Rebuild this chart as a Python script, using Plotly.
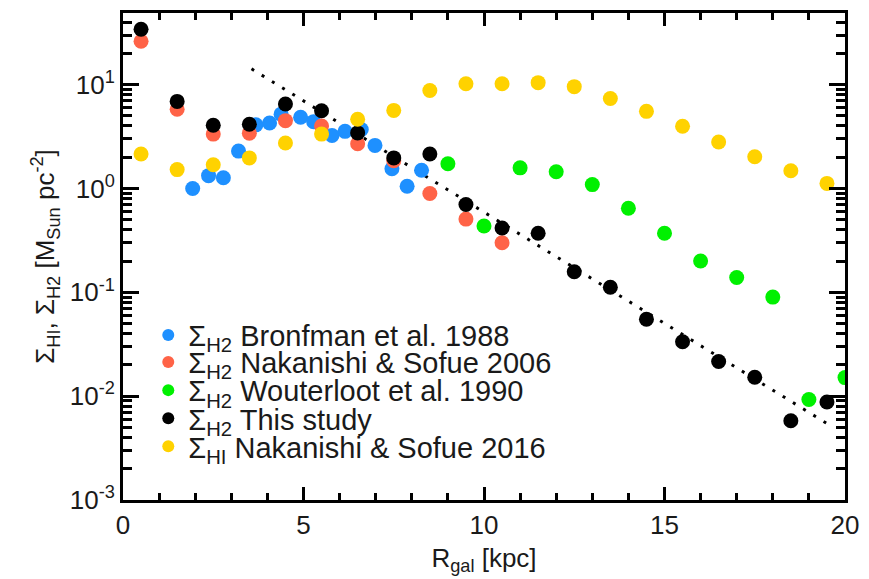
import plotly.graph_objects as go

# ---------------- data ----------------
bronfman_R = [1.93, 2.37, 2.78, 3.2, 3.68, 4.06, 4.38, 4.92, 5.28, 5.79, 6.15, 6.6, 6.98, 7.45, 7.87, 8.27]
bronfman_S = [1.0, 1.33, 1.27, 2.29, 4.1, 4.27, 5.2, 4.85, 4.4, 3.24, 3.55, 3.7, 2.6, 1.55, 1.05, 1.5]

ns06_R = [0.5, 1.5, 2.5, 3.5, 4.5, 5.5, 6.5, 7.5, 8.5, 9.5, 10.5]
ns06_S = [26.2, 5.8, 3.34, 3.41, 4.5, 4.0, 2.7, 1.85, 0.895, 0.507, 0.30]

wout_R = [9, 10, 11, 12, 13, 14, 15, 16, 17, 18, 19, 20]
wout_S = [1.73, 0.435, 1.58, 1.45, 1.09, 0.645, 0.37, 0.20, 0.139, 0.090, 0.0093, 0.0151]

this_R = [0.5, 1.5, 2.5, 3.5, 4.5, 5.5, 6.5, 7.5, 8.5, 9.5, 10.5, 11.5, 12.5, 13.5, 14.5, 15.5, 16.5, 17.5, 18.5, 19.5]
this_S = [34.2, 6.9, 4.07, 4.16, 6.5, 5.6, 3.43, 1.97, 2.15, 0.70, 0.416, 0.37, 0.158, 0.112, 0.055, 0.0334, 0.0216, 0.0152, 0.0058, 0.0088]

hi_R = [0.5, 1.5, 2.5, 3.5, 4.5, 5.5, 6.5, 7.5, 8.5, 9.5, 10.5, 11.5, 12.5, 13.5, 14.5, 15.5, 16.5, 17.5, 18.5, 19.5]
hi_S = [2.15, 1.52, 1.69, 1.97, 2.74, 3.34, 4.64, 5.65, 8.77, 10.2, 10.2, 10.45, 9.57, 7.36, 5.53, 3.98, 2.8, 2.02, 1.48, 1.12]

fit_R = [3.56, 19.52]
fit_S = [14.2, 0.0054]

x_ticks = [0, 5, 10, 15, 20]
y_ticks = [1e-3, 1e-2, 1e-1, 1e0, 1e1]
y_ticktext = ["10<sup>-3</sup>", "10<sup>-2</sup>", "10<sup>-1</sup>", "10<sup>0</sup>", "10<sup>1</sup>"]

series = [
    ("Σ<sub>H2</sub> Bronfman et al. 1988", bronfman_R, bronfman_S, "#1E90FF"),
    ("Σ<sub>H2</sub> Nakanishi & Sofue 2006", ns06_R, ns06_S, "#FF6347"),
    ("Σ<sub>H2</sub> Wouterloot et al. 1990", wout_R, wout_S, "#00F000"),
    ("Σ<sub>H2</sub> This study", this_R, this_S, "#000000"),
    ("Σ<sub>HI</sub> Nakanishi & Sofue 2016", hi_R, hi_S, "#FFD200"),
]

FONT = "Liberation Sans, Arial, Helvetica, sans-serif"
TXT = "#1a1a1a"

fig = go.Figure()
fig.add_trace(go.Scatter(x=fit_R, y=fit_S, mode="lines", showlegend=False,
                         line=dict(color="black", width=3, dash="3px,9px"), hoverinfo="skip"))
legend_ids = ["legend", "legend2", "legend3", "legend4", "legend5"]
for (name, xs, ys, col), lid in zip(series, legend_ids):
    fig.add_trace(go.Scatter(x=xs, y=ys, mode="markers", name=name, legend=lid,
                             marker=dict(color=col, size=15, line=dict(width=0))))

minor_y = [m * 10 ** e for e in range(-3, 2) for m in range(2, 10)]

axis_common = dict(showline=True, linewidth=3, linecolor="black", mirror="allticks",
                   ticks="inside", tickwidth=3, tickcolor="black",
                   showgrid=True, gridcolor="rgba(0,0,0,0)",
                   zerolinecolor="rgba(0,0,0,0)",
                   tickfont=dict(family=FONT, size=26, color=TXT))

fig.update_xaxes(range=[0, 20], tickmode="array", tickvals=x_ticks, ticklen=13,
                 minor=dict(dtick=1, ticks="inside", ticklen=7, tickwidth=3, tickcolor="black"),
                 title=dict(text="R<sub>gal</sub> [kpc]", font=dict(family=FONT, size=26, color=TXT), standoff=10),
                 **axis_common)
fig.update_yaxes(type="log", range=[-3, 1.69], tickmode="array", tickvals=y_ticks, ticktext=y_ticktext, ticklen=16,
                 minor=dict(tickvals=minor_y, ticks="inside", ticklen=9, tickwidth=3, tickcolor="black"),
                 title=dict(text="Σ<sub>HI</sub>, Σ<sub>H2</sub> [M<sub>Sun</sub> pc<sup>-2</sup>]",
                            font=dict(family=FONT, size=26, color=TXT), standoff=8),
                 **axis_common)

row_y = [0.3387, 0.283, 0.2253, 0.1676, 0.11]
legend_cfg = {}
for lid, yy in zip(legend_ids, row_y):
    legend_cfg[lid] = dict(x=0.035, y=yy, xanchor="left", yanchor="middle", bgcolor="rgba(0,0,0,0)",
                           font=dict(family=FONT, size=29, color=TXT), itemsizing="constant")

fig.update_layout(
    width=869, height=579,
    margin=dict(l=123, r=19, t=10, b=79),
    paper_bgcolor="white", plot_bgcolor="white",
    font=dict(family=FONT, size=26, color=TXT),
    showlegend=True,
    **legend_cfg,
)

fig.write_html("out.html")
